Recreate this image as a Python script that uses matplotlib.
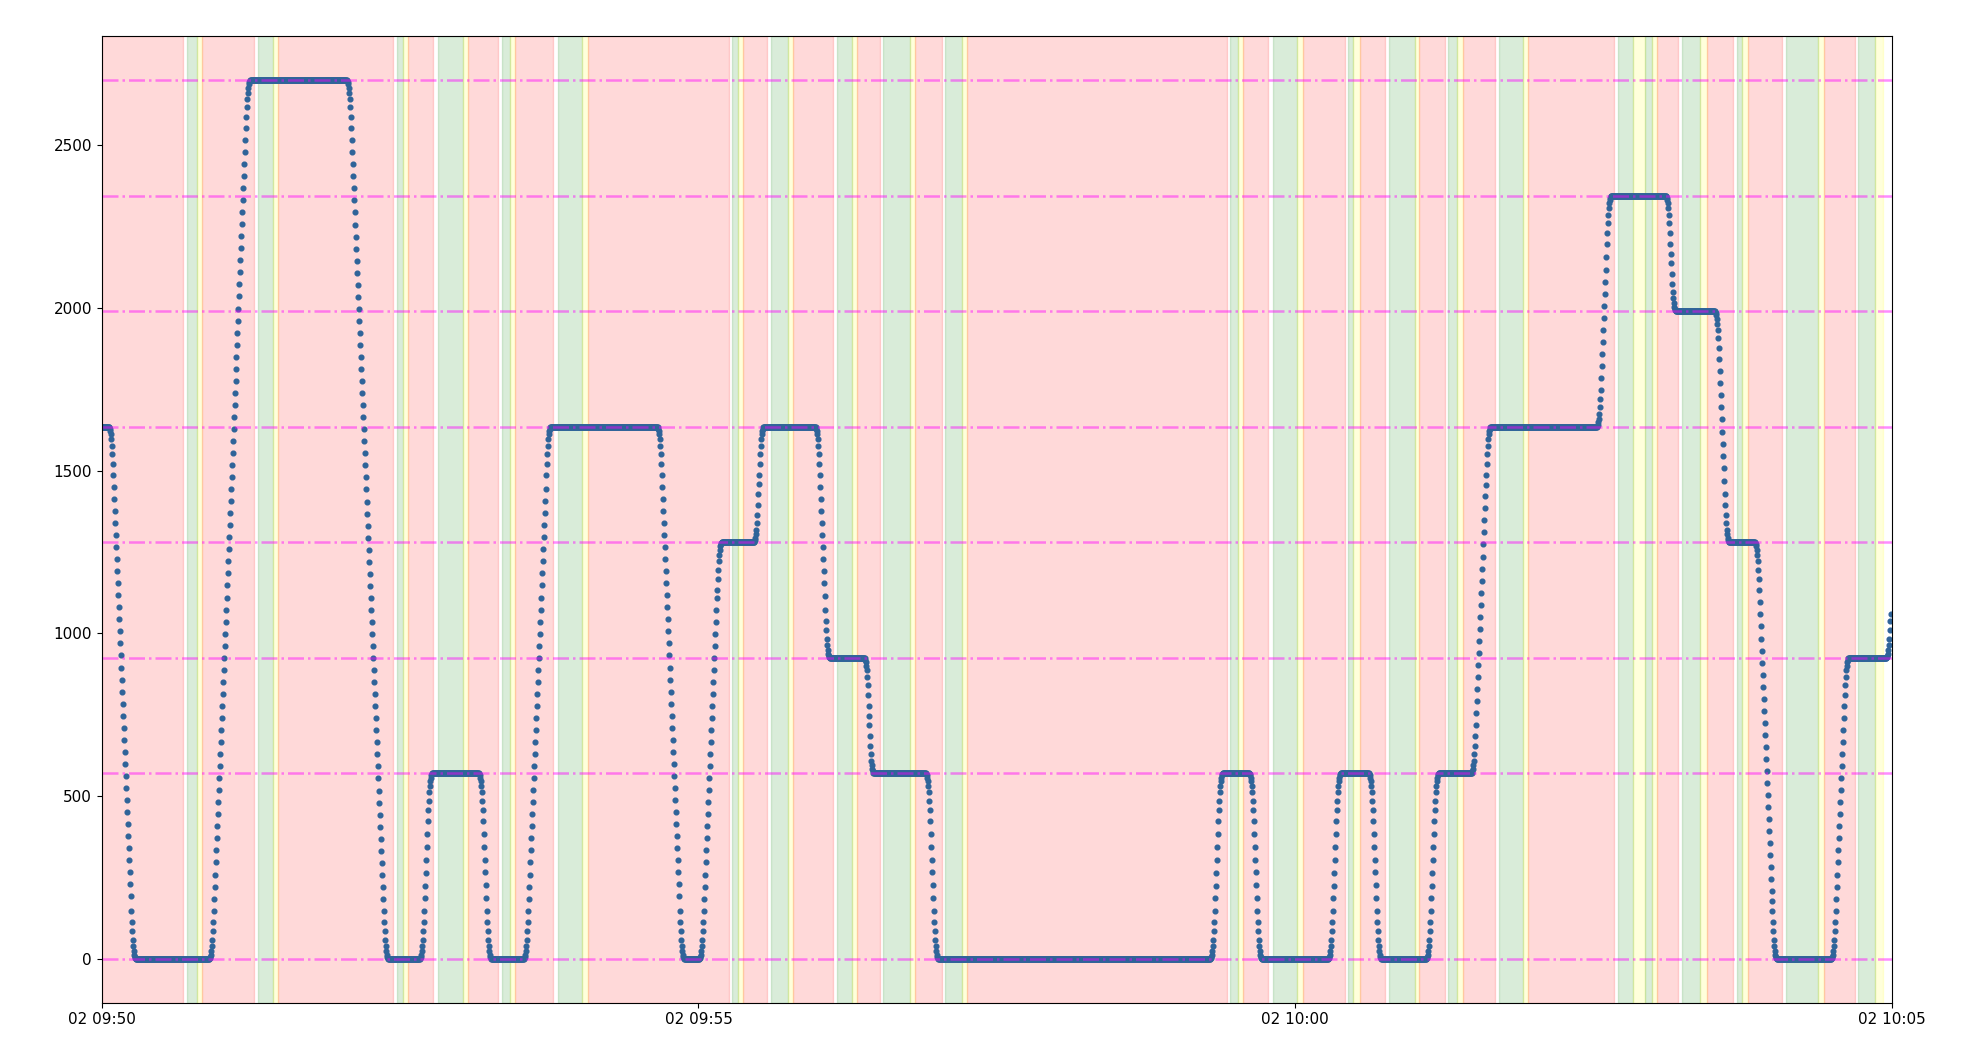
import numpy as np
import pandas as pd
import matplotlib
matplotlib.use("Agg")
import matplotlib.pyplot as plt
import matplotlib.dates as mdates

# --- position trace, one reading every 250 ms starting 09:50:00 ---
START = "2021-03-02 09:50:00"
SAMPLE = "250ms"

# stop levels (dash-dot guide lines)
levels = [0, 570, 925, 1280, 1635, 1990, 2345, 2700]

# ramps between stops
ramp_1635_0 = [1633, 1629, 1622, 1611, 1596, 1576, 1551, 1521, 1487, 1450, 1413, 1376, 1339, 1302,
               1265, 1228, 1191, 1154, 1117, 1080, 1043, 1006, 969, 932, 895, 858, 821, 784, 747,
               710, 673, 636, 599, 562, 525, 488, 451, 414, 377, 340, 303, 266, 229, 192, 148, 114,
               84, 59, 39, 24, 13, 6, 2, 0]
ramp_0_2700 = [2, 6, 13, 24, 39, 59, 84, 114, 148, 185, 222, 259, 296, 333, 370, 407, 444, 481, 518,
               555, 592, 629, 666, 703, 740, 777, 814, 851, 888, 925, 962, 999, 1036, 1073, 1110,
               1147, 1184, 1221, 1258, 1295, 1332, 1369, 1406, 1443, 1480, 1517, 1554, 1591, 1628,
               1665, 1702, 1739, 1776, 1813, 1850, 1887, 1924, 1961, 1998, 2035, 2072, 2109, 2146,
               2183, 2220, 2257, 2294, 2331, 2368, 2405, 2442, 2479, 2516, 2552, 2586, 2616, 2641,
               2661, 2676, 2687, 2694, 2698, 2700]
ramp_2700_0 = [2698, 2694, 2687, 2676, 2661, 2641, 2616, 2586, 2552, 2515, 2478, 2441, 2404, 2367,
               2330, 2293, 2256, 2219, 2182, 2145, 2108, 2071, 2034, 1997, 1960, 1923, 1886, 1849,
               1812, 1775, 1738, 1701, 1664, 1627, 1590, 1553, 1516, 1479, 1442, 1405, 1368, 1331,
               1294, 1257, 1220, 1183, 1146, 1109, 1072, 1035, 998, 961, 924, 887, 850, 813, 776,
               739, 702, 665, 628, 591, 554, 517, 480, 443, 406, 369, 332, 295, 258, 221, 184, 148,
               114, 84, 59, 39, 24, 13, 6, 2, 0]
ramp_0_570 = [2, 6, 13, 24, 39, 59, 84, 114, 148, 186, 225, 264, 303, 342, 383, 422, 456, 486, 511,
              531, 546, 557, 564, 568, 570]
ramp_570_0 = [568, 564, 557, 546, 531, 511, 486, 456, 422, 384, 344, 305, 266, 227, 187, 148, 114,
              84, 59, 39, 24, 13, 6, 2, 0]
ramp_0_1635 = [2, 6, 13, 24, 39, 59, 84, 114, 148, 185, 222, 259, 296, 333, 370, 407, 444, 481, 518,
               555, 592, 629, 666, 703, 740, 777, 814, 851, 888, 925, 962, 999, 1036, 1073, 1110,
               1147, 1184, 1221, 1258, 1295, 1332, 1369, 1406, 1443, 1487, 1521, 1551, 1576, 1596,
               1611, 1622, 1629, 1633, 1635]
ramp_0_1280 = [2, 6, 13, 24, 39, 59, 84, 114, 148, 185, 222, 259, 296, 333, 370, 407, 444, 481, 518,
               555, 592, 629, 666, 703, 740, 777, 814, 851, 888, 925, 962, 999, 1036, 1073, 1110,
               1132, 1166, 1196, 1221, 1241, 1256, 1267, 1274, 1278, 1280]
ramp_1280_1635 = [1282, 1286, 1293, 1304, 1319, 1339, 1364, 1394, 1428, 1458, 1487, 1521, 1551, 1576,
                  1596, 1611, 1622, 1629, 1633, 1635]
ramp_1635_925 = [1633, 1629, 1622, 1611, 1596, 1576, 1551, 1521, 1487, 1450, 1413, 1376, 1339, 1302,
                 1265, 1228, 1191, 1154, 1114, 1073, 1039, 1009, 984, 964, 949, 938, 931, 927, 925]
ramp_925_570 = [923, 919, 912, 901, 886, 866, 841, 811, 777, 747, 718, 684, 654, 629, 609, 594, 583,
                576, 572, 570]
ramp_570_1635 = [572, 576, 583, 594, 609, 629, 654, 684, 718, 755, 792, 829, 866, 903, 940, 977, 1014,
                 1051, 1088, 1125, 1162, 1199, 1236, 1273, 1310, 1347, 1384, 1421, 1455, 1487, 1521,
                 1551, 1576, 1596, 1611, 1622, 1629, 1633, 1635]
ramp_1635_2345 = [1637, 1641, 1648, 1659, 1674, 1694, 1719, 1749, 1783, 1820, 1857, 1894, 1931, 1968,
                  2005, 2042, 2079, 2116, 2155, 2197, 2231, 2261, 2286, 2306, 2321, 2332, 2339, 2343,
                  2345]
ramp_2345_1990 = [2343, 2339, 2332, 2321, 2306, 2286, 2261, 2231, 2197, 2167, 2138, 2104, 2074, 2049,
                  2029, 2014, 2003, 1996, 1992, 1990]
ramp_1990_1280 = [1988, 1984, 1977, 1966, 1951, 1931, 1906, 1876, 1842, 1805, 1768, 1731, 1694, 1657,
                  1620, 1583, 1546, 1509, 1468, 1428, 1394, 1364, 1339, 1319, 1304, 1293, 1286, 1282,
                  1280]
ramp_1280_0 = [1278, 1274, 1267, 1256, 1241, 1221, 1196, 1166, 1132, 1095, 1058, 1021, 984, 947, 910,
               873, 836, 799, 762, 725, 688, 651, 614, 577, 540, 503, 466, 429, 392, 355, 318, 281,
               244, 207, 177, 148, 114, 84, 59, 39, 24, 13, 6, 2, 0]
ramp_0_925 = [2, 6, 13, 24, 39, 59, 84, 114, 148, 185, 222, 259, 296, 333, 370, 407, 444, 481, 518,
              555, 592, 629, 666, 703, 740, 777, 811, 841, 866, 886, 901, 912, 919, 923, 925]
ramp_925_end = [927, 931, 938, 949, 964, 984, 1009, 1039, 1058]

# whole trace: waits at a stop (level, number of readings) and ramps
pieces = [
    [1635] * 15, ramp_1635_0, [0] * 148, ramp_0_2700, [2700] * 194, ramp_2700_0,
    [0] * 64, ramp_0_570, [570] * 93, ramp_570_0, [0] * 66, ramp_0_1635,
    [1635] * 214, ramp_1635_0, [0] * 31, ramp_0_1280, [1280] * 64, ramp_1280_1635,
    [1635] * 104, ramp_1635_925, [925] * 69, ramp_925_570, [570] * 104, ramp_570_0,
    [0] * 547, ramp_0_570, [570] * 54, ramp_570_0, [0] * 134, ramp_0_570,
    [570] * 56, ramp_570_0, [0] * 91, ramp_0_570, [570] * 65, ramp_570_1635,
    [1635] * 214, ramp_1635_2345, [2345] * 109, ramp_2345_1990, [1990] * 79, ramp_1990_1280,
    [1280] * 51, ramp_1280_0, [0] * 109, ramp_0_925, [925] * 76, ramp_925_end,
]

# state bands (seconds after 09:50:00)
span_start = [0.0, 42.9, 47.9, 50.4, 78.6, 86.1, 88.6, 148.5, 151.5, 154.0, 169.1, 181.7, 184.2,
              201.3, 205.3, 207.8, 229.4, 241.5, 244.5, 316.9, 319.9, 322.4, 336.5, 345.0, 347.6,
              369.7, 377.3, 379.8, 392.8, 406.4, 408.9, 424.0, 432.6, 435.1, 567.3, 571.3, 573.8,
              588.9, 601.0, 604.0, 626.6, 629.1, 632.6, 647.2, 660.3, 662.3, 676.9, 681.4, 684.4,
              702.5, 714.6, 717.1, 762.4, 769.9, 775.9, 779.5, 782.0, 794.6, 803.6, 807.2, 822.2,
              824.7, 827.7, 846.8, 862.9, 865.9, 883.0, 891.6]
span_end = [40.9, 47.9, 50.4, 76.5, 86.1, 88.6, 146.5, 151.5, 154.0, 166.6, 181.7, 184.2, 199.3,
            205.3, 207.8, 226.9, 241.5, 244.5, 315.4, 319.9, 322.4, 334.5, 345.0, 347.6, 367.7,
            377.3, 379.8, 391.3, 406.4, 408.9, 422.5, 432.6, 435.1, 565.8, 571.3, 573.8, 586.4,
            601.0, 604.0, 625.1, 629.1, 632.6, 645.2, 660.3, 662.3, 675.4, 681.4, 684.4, 700.5,
            714.6, 717.1, 760.4, 769.9, 775.9, 779.5, 782.0, 792.6, 803.6, 807.2, 820.2, 824.7,
            827.7, 844.8, 862.9, 865.9, 881.5, 891.6, 895.6]
span_state = ["red", "green", "yellow", "red", "green", "yellow", "red", "green", "yellow", "red",
              "green", "yellow", "red", "green", "yellow", "red", "green", "yellow", "red", "green",
              "yellow", "red", "green", "yellow", "red", "green", "yellow", "red", "green", "yellow",
              "red", "green", "yellow", "red", "green", "yellow", "red", "green", "yellow", "red",
              "green", "yellow", "red", "green", "yellow", "red", "green", "yellow", "red", "green",
              "yellow", "red", "green", "yellow", "green", "yellow", "red", "green", "yellow", "red",
              "green", "yellow", "red", "green", "yellow", "red", "green", "yellow"]

state_colors = {"red": "red", "green": "green", "yellow": "yellow"}
state_alpha = {"red": 0.15, "green": 0.15, "yellow": 0.14}


def main():
    values = np.concatenate([np.asarray(p, dtype=float) for p in pieces])
    t0 = pd.Timestamp(START)
    times = pd.date_range(t0, periods=len(values), freq=SAMPLE)

    fig = plt.figure(figsize=(19.68, 10.49), dpi=100)
    ax = fig.add_axes([0.0517, 0.0441, 0.9096, 0.9215])

    for s, e, st in zip(span_start, span_end, span_state):
        ax.axvspan(t0 + pd.Timedelta(seconds=s), t0 + pd.Timedelta(seconds=e),
                   color=state_colors[st], alpha=state_alpha[st])

    ax.plot(times, values, linestyle="none", marker="o", markersize=3.4,
            color="#2f6499")

    for lv in levels:
        ax.axhline(lv, color="magenta", alpha=0.45, linestyle="-.", linewidth=1.8)

    ax.set_xlim(t0, t0 + pd.Timedelta(minutes=15))
    ax.set_ylim(-135, 2835)
    ax.xaxis.set_major_locator(mdates.MinuteLocator(byminute=range(0, 60, 5)))
    ax.xaxis.set_major_formatter(mdates.DateFormatter("%d %H:%M"))
    ax.tick_params(labelsize=11)

    fig.savefig("out.png", dpi=100)
    plt.close(fig)


if __name__ == "__main__":
    main()
